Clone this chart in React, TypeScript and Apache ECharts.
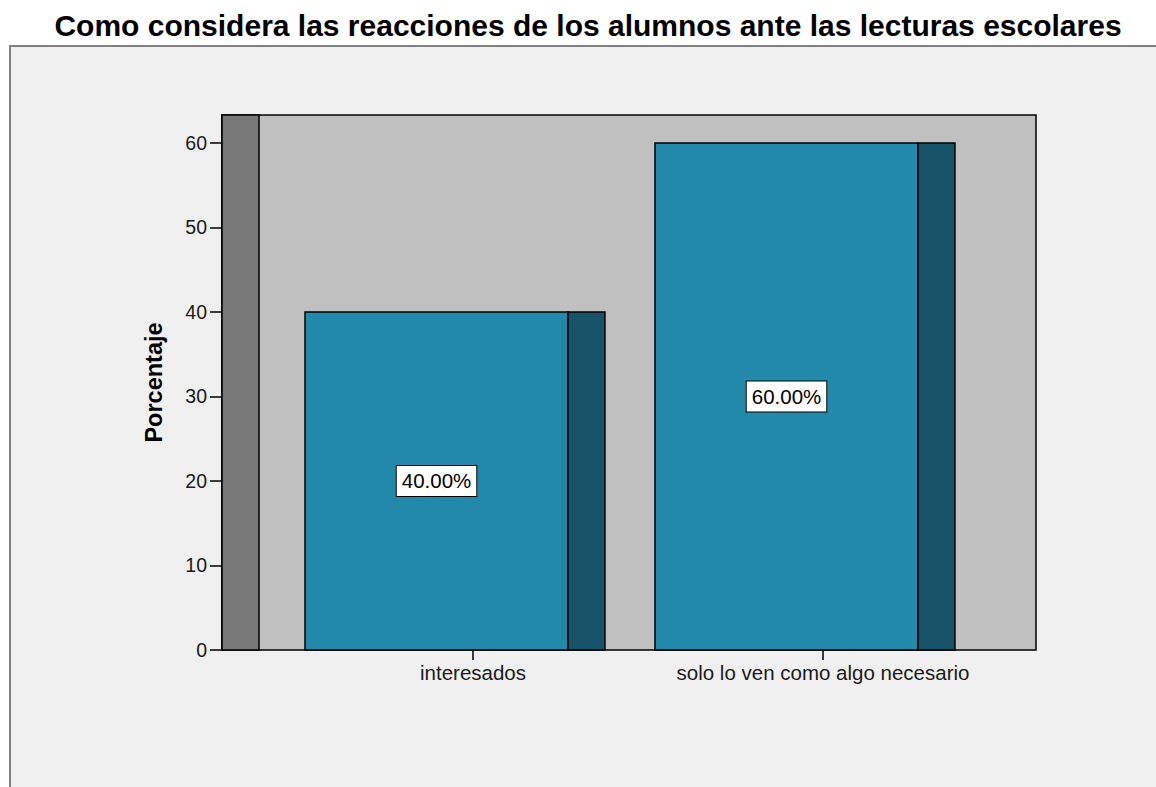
import React, { useEffect, useRef } from "react";
import * as echarts from "echarts";

const TITLE = "Como considera las reacciones de los alumnos ante las lecturas escolares";
const Y_NAME = "Porcentaje";
const categories = ["interesados", "solo lo ven como algo necesario"];
const values = [40, 60];
const Y_MAX = 63.3;
const Y_INTERVAL = 10;

const FRONT = "#2389ab";
const SIDE = "#17546a";
const FONT = "Liberation Sans, Arial, sans-serif";

export default function App() {
  const ref = useRef<HTMLDivElement>(null);
  useEffect(() => {
    document.body.style.margin = "0";
    const chart = echarts.init(ref.current!, null, { renderer: "svg" });
    const data = categories.map((c, i) => [i, values[i]]);
    const option: any = {
      animation: false,
      backgroundColor: "#ffffff",
      graphic: [
        {
          type: "rect",
          z: -10,
          shape: { x: 10, y: 46, width: 1160, height: 760 },
          style: { fill: "#f0f0f0", stroke: "#808080", lineWidth: 2 },
        },
        {
          type: "text",
          x: 588,
          y: 25,
          style: {
            text: TITLE,
            fontSize: 30,
            fontWeight: "bold",
            fontFamily: FONT,
            fill: "#000",
            align: "center",
            verticalAlign: "middle",
          },
        },
        {
          type: "rect",
          z: 1,
          shape: { x: 222, y: 115, width: 37, height: 535 },
          style: { fill: "#787878", stroke: "#000", lineWidth: 1.5 },
        },
      ],
      grid: [
        {
          left: 222,
          top: 115,
          width: 814,
          height: 535,
          show: true,
          backgroundColor: "#c0c0c0",
          borderColor: "#000",
          borderWidth: 1.5,
        },
        { left: 298, top: 115, width: 700, height: 535 },
      ],
      xAxis: [
        { type: "value", gridIndex: 0, show: false, min: 0, max: 1 },
        {
          type: "category",
          gridIndex: 1,
          data: categories,
          axisLine: { show: false },
          axisTick: { show: true, alignWithLabel: true, length: 10, lineStyle: { color: "#000", width: 1.5 } },
          axisLabel: { interval: 0, fontSize: 20.5, color: "#1a1a1a", fontFamily: FONT, margin: 12 },
          splitLine: { show: false },
        },
      ],
      yAxis: [
        {
          type: "value",
          gridIndex: 0,
          min: 0,
          max: Y_MAX,
          interval: Y_INTERVAL,
          name: Y_NAME,
          nameLocation: "middle",
          nameGap: 56,
          nameRotate: 90,
          nameTextStyle: { fontSize: 23.5, fontWeight: "bold", color: "#000", fontFamily: FONT },
          axisLine: { show: true, lineStyle: { color: "#000", width: 1.5 } },
          axisTick: { show: true, length: 12, lineStyle: { color: "#000", width: 1.5 } },
          axisLabel: { fontSize: 19.5, color: "#1a1a1a", fontFamily: FONT, margin: 15, showMaxLabel: false },
          splitLine: { show: false },
        },
        { type: "value", gridIndex: 1, min: 0, max: Y_MAX, interval: Y_INTERVAL, show: false },
      ],
      series: [
        {
          type: "custom",
          xAxisIndex: 1,
          yAxisIndex: 1,
          z: 3,
          data,
          encode: { x: 0, y: 1 },
          renderItem: (params: any, api: any) => {
            const idx = api.value(0);
            const v = api.value(1);
            const top = api.coord([idx, v]);
            const base = api.coord([idx, 0]);
            const mid = api.coord([idx, v / 2]);
            const band = api.size([1, 0])[0];
            const fl = top[0] - band * 0.48;
            const fr = top[0] + band * 0.2714;
            const sr = top[0] + band * 0.377;
            const h = base[1] - top[1];
            return {
              type: "group",
              children: [
                {
                  type: "rect",
                  shape: { x: fl, y: top[1], width: fr - fl, height: h },
                  style: { fill: FRONT, stroke: "#000", lineWidth: 1.5 },
                },
                {
                  type: "rect",
                  shape: { x: fr, y: top[1], width: sr - fr, height: h },
                  style: { fill: SIDE, stroke: "#000", lineWidth: 1.5 },
                },
                {
                  type: "text",
                  x: (fl + fr) / 2,
                  y: mid[1],
                  style: {
                    text: v.toFixed(2) + "%",
                    fontSize: 20.5,
                    fontFamily: FONT,
                    fill: "#000",
                    align: "center",
                    verticalAlign: "middle",
                    backgroundColor: "#fff",
                    borderColor: "#000",
                    borderWidth: 1,
                    padding: [5, 5, 4, 5],
                  },
                },
              ],
            };
          },
        },
      ],
    };
    chart.setOption(option);
    return () => chart.dispose();
  }, []);
  return <div ref={ref} style={{ width: 1156, height: 787 }} />;
}
